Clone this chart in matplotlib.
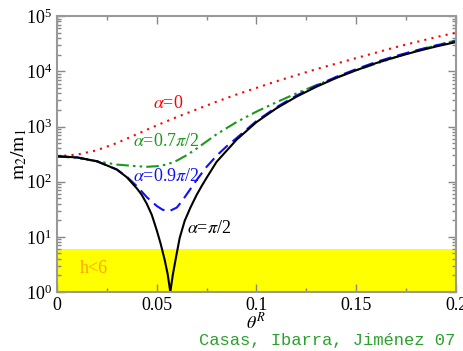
import numpy as np
import matplotlib
matplotlib.use("Agg")
import matplotlib.pyplot as plt
from matplotlib.ticker import LogLocator, MultipleLocator, NullFormatter

plt.rcParams['font.family'] = 'Liberation Serif'
plt.rcParams['mathtext.fontset'] = 'stix'

# theta^R grid and log10(m2/m1)
theta = [0.0, 0.01, 0.02, 0.03, 0.04, 0.05, 0.06, 0.07, 0.08, 0.09, 0.10,
         0.11, 0.12, 0.13, 0.14, 0.15, 0.16, 0.17, 0.18, 0.19, 0.20]
log_a0 = [2.46, 2.49, 2.57, 2.70, 2.86, 3.02, 3.17, 3.31, 3.45, 3.58, 3.70,
          3.82, 3.93, 4.04, 4.14, 4.24, 4.34, 4.44, 4.53, 4.62, 4.70]

theta_g = [0.0, 0.01, 0.02, 0.03, 0.04, 0.045, 0.05, 0.055, 0.06, 0.065, 0.07,
           0.075, 0.08, 0.09, 0.10, 0.11, 0.12, 0.13, 0.14, 0.15, 0.16, 0.17,
           0.18, 0.19, 0.20]
log_a07 = [2.46, 2.43, 2.37, 2.31, 2.28, 2.27, 2.28, 2.31, 2.38, 2.48, 2.60,
           2.73, 2.86, 3.08, 3.27, 3.44, 3.60, 3.75, 3.89, 4.02, 4.14, 4.26,
           4.37, 4.47, 4.56]

theta_b = [0.0, 0.01, 0.02, 0.03, 0.035, 0.04, 0.045, 0.05, 0.053, 0.0565,
           0.06, 0.0625, 0.065, 0.07, 0.075, 0.08, 0.085, 0.09, 0.10, 0.11,
           0.12, 0.13, 0.14, 0.15, 0.16, 0.17, 0.18, 0.19, 0.20]
log_a09 = [2.46, 2.44, 2.37, 2.22, 2.09, 1.92, 1.72, 1.56, 1.49, 1.47,
           1.53, 1.64, 1.77, 2.03, 2.27, 2.47, 2.64, 2.79, 3.10, 3.35,
           3.56, 3.74, 3.90, 4.04, 4.17, 4.28, 4.38, 4.47, 4.55]

theta_k = [0.0, 0.01, 0.02, 0.03, 0.035, 0.04, 0.0425, 0.045, 0.0475, 0.05,
           0.052, 0.054, 0.0555, 0.0568, 0.058, 0.0595, 0.0615, 0.064, 0.067,
           0.07, 0.0725, 0.075, 0.08, 0.09, 0.10, 0.11, 0.12, 0.13, 0.14,
           0.15, 0.16, 0.17, 0.18, 0.19, 0.20]
log_a1 = [2.46, 2.44, 2.37, 2.22, 2.08, 1.88, 1.76, 1.60, 1.40, 1.12,
          0.87, 0.58, 0.32, 0.0, 0.30, 0.60, 0.98, 1.29, 1.54,
          1.76, 1.92, 2.07, 2.36, 2.76, 3.08, 3.33, 3.54, 3.72, 3.88,
          4.02, 4.15, 4.26, 4.36, 4.45, 4.53]

h_limit = 6

fig = plt.figure(figsize=(4.64, 3.51), dpi=100)
ax = fig.add_axes([0.1228, 0.168, 0.86, 0.786])

ax.axhspan(1, h_limit, color='#ffff00', lw=0, zorder=0)
ax.plot(theta, 10 ** np.array(log_a0), color='red', ls=(0, (1, 2.5)), lw=1.5)
ax.plot(theta_g, 10 ** np.array(log_a07), color='#1a9a1a', ls=(0, (6, 2, 1.2, 2, 1.2, 2)), lw=1.5)
ax.plot(theta_b, 10 ** np.array(log_a09), color='#1010ff', ls=(0, (6, 3)), lw=1.5)
ax.plot(theta_k, 10 ** np.array(log_a1), color='black', lw=1.5)

ax.set_yscale('log')
ax.set_xlim(0, 0.2)
ax.set_ylim(1, 1e5)
ax.xaxis.set_minor_locator(MultipleLocator(0.025))
ax.set_xticks([0, 0.05, 0.1, 0.15, 0.2])
ax.set_xticklabels(['0', '0.05', '0.1', '0.15', '0.2'])
ax.yaxis.set_major_locator(LogLocator(base=10, numticks=10))
ax.yaxis.set_minor_locator(LogLocator(base=10, subs=np.arange(2, 10), numticks=10))
ax.yaxis.set_minor_formatter(NullFormatter())
ax.tick_params(which='both', direction='in', top=True, right=True,
               color='#888888', labelsize=13)
ax.tick_params(which='major', length=6, width=1)
ax.tick_params(which='minor', length=3, width=1)
for s in ax.spines.values():
    s.set_color('#999999')
    s.set_linewidth(1.5)

ax.set_xlabel(r'$\theta^R$', fontsize=13, labelpad=-1)
ax.set_ylabel(r'$\mathrm{m_2/m_1}$', fontsize=14, labelpad=-2)

ax.text(0.0555, 2570, r'$\alpha$=0', color='red', fontsize=13, ha='center', va='center')
ax.text(0.038, 543, r'$\alpha$=0.7$\pi$/2', color='#1a9a1a', fontsize=13, va='center')
ax.text(0.038, 126, r'$\alpha$=0.9$\pi$/2', color='#1010ff', fontsize=13, va='center')
ax.text(0.065, 14.4, r'$\alpha$=$\pi$/2', color='black', fontsize=13, va='center')
ax.text(0.0115, 2.7, 'h<6', color='#ffa500', fontsize=13, va='center')

fig.text(455 / 464, 1 - 340 / 351, 'Casas, Ibarra, Jiménez 07', color='#2ca02c',
         family='Liberation Mono', fontsize=12.3, ha='right', va='center')

fig.savefig('out.png', dpi=100)
